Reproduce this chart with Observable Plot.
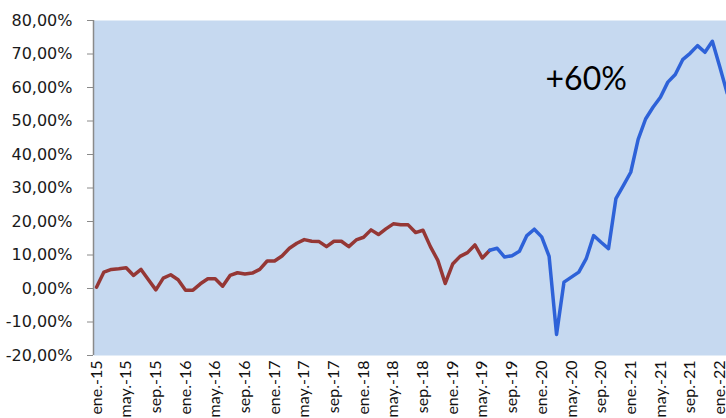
<!DOCTYPE html>
<html><head><meta charset="utf-8">
<script src="https://cdn.jsdelivr.net/npm/d3@7"></script>
<script src="https://cdn.jsdelivr.net/npm/@observablehq/plot@0.6"></script>
<style>body{margin:0;background:#fff;overflow:hidden}</style>
</head><body><div id="chart"></div>
<script>
// x tick labels (every 4 months, starting ene.-15)
const tickLabels = ["ene.-15","may.-15","sep.-15","ene.-16","may.-16","sep.-16","ene.-17","may.-17","sep.-17","ene.-18","may.-18","sep.-18","ene.-19","may.-19","sep.-19","ene.-20","may.-20","sep.-20","ene.-21","may.-21","sep.-21","ene.-22"];
// monthly values (%), red series: ene.-15 .. jun.-19
const redSeries = [0.4,4.9,5.7,5.9,6.2,3.9,5.7,2.6,-0.4,3.1,4.1,2.6,-0.5,-0.5,1.4,2.9,2.9,0.7,3.9,4.7,4.3,4.6,5.7,8.2,8.2,9.7,12.0,13.5,14.6,14.1,14.0,12.5,14.1,14.1,12.5,14.5,15.3,17.5,16.1,17.8,19.3,19.0,19.0,16.7,17.4,12.5,8.4,1.5,7.3,9.6,10.7,13.0,9.1,11.4];
// blue series: jun.-19 .. feb.-22
const blueSeries = [11.4,12.0,9.4,9.8,11.1,15.8,17.7,15.4,9.6,-13.7,1.9,3.4,4.9,8.9,15.8,13.8,11.9,26.8,30.7,34.7,44.5,50.6,54.1,57.1,61.6,63.9,68.3,70.2,72.5,70.5,73.8,66.2,58.3];
const blueStart = 53; // month index of jun.-19
const yTicks = [-20,-10,0,10,20,30,40,50,60,70,80];
const annotation = "+60%";

const red = redSeries.map((v, i) => ({i, v}));
const blue = blueSeries.map((v, k) => ({i: blueStart + k, v}));
const tickIdx = tickLabels.map((_, k) => k * 4);

const chart = Plot.plot({
  width: 726, height: 418,
  marginLeft: 93, marginRight: 0, marginTop: 20, marginBottom: 63,
  style: {fontFamily: "DejaVu Sans", background: "#fff", overflow: "hidden"},
  x: {type: "linear", domain: [0, 85], range: [96, 726.7], axis: null},
  y: {domain: [-20, 80], axis: null},
  marks: [
    Plot.frame({fill: "#C6D9F0", stroke: "none"}),
    Plot.ruleX([0], {dx: -3, stroke: "#8a8a8a", strokeWidth: 1.5}),
    Plot.axisY({ticks: yTicks, tickSize: 6, tickPadding: 15, fontSize: 16, label: null,
      tickFormat: d => d.toFixed(2).replace(".", ",") + "%",
      stroke: "#8a8a8a", fill: "#1a1a1a"}),
    Plot.axisX({ticks: tickIdx, tickFormat: d => tickLabels[d / 4], tickRotate: -90, label: null,
      tickSize: 0, tickPadding: 5, fontSize: 16, fontFamily: "Lato", fill: "#111"}),
    Plot.line(red, {x: "i", y: "v", stroke: "#953735", strokeWidth: 3.5, strokeLinejoin: "round"}),
    Plot.line(blue, {x: "i", y: "v", stroke: "#2E62D8", strokeWidth: 3.5, strokeLinejoin: "round"}),
    Plot.text([annotation], {x: 66, y: 62.4, text: d => d, fontSize: 32, fontFamily: "Lato", fill: "#000", textAnchor: "middle"})
  ]
});
document.getElementById("chart").appendChild(chart);
</script>
</body></html>
